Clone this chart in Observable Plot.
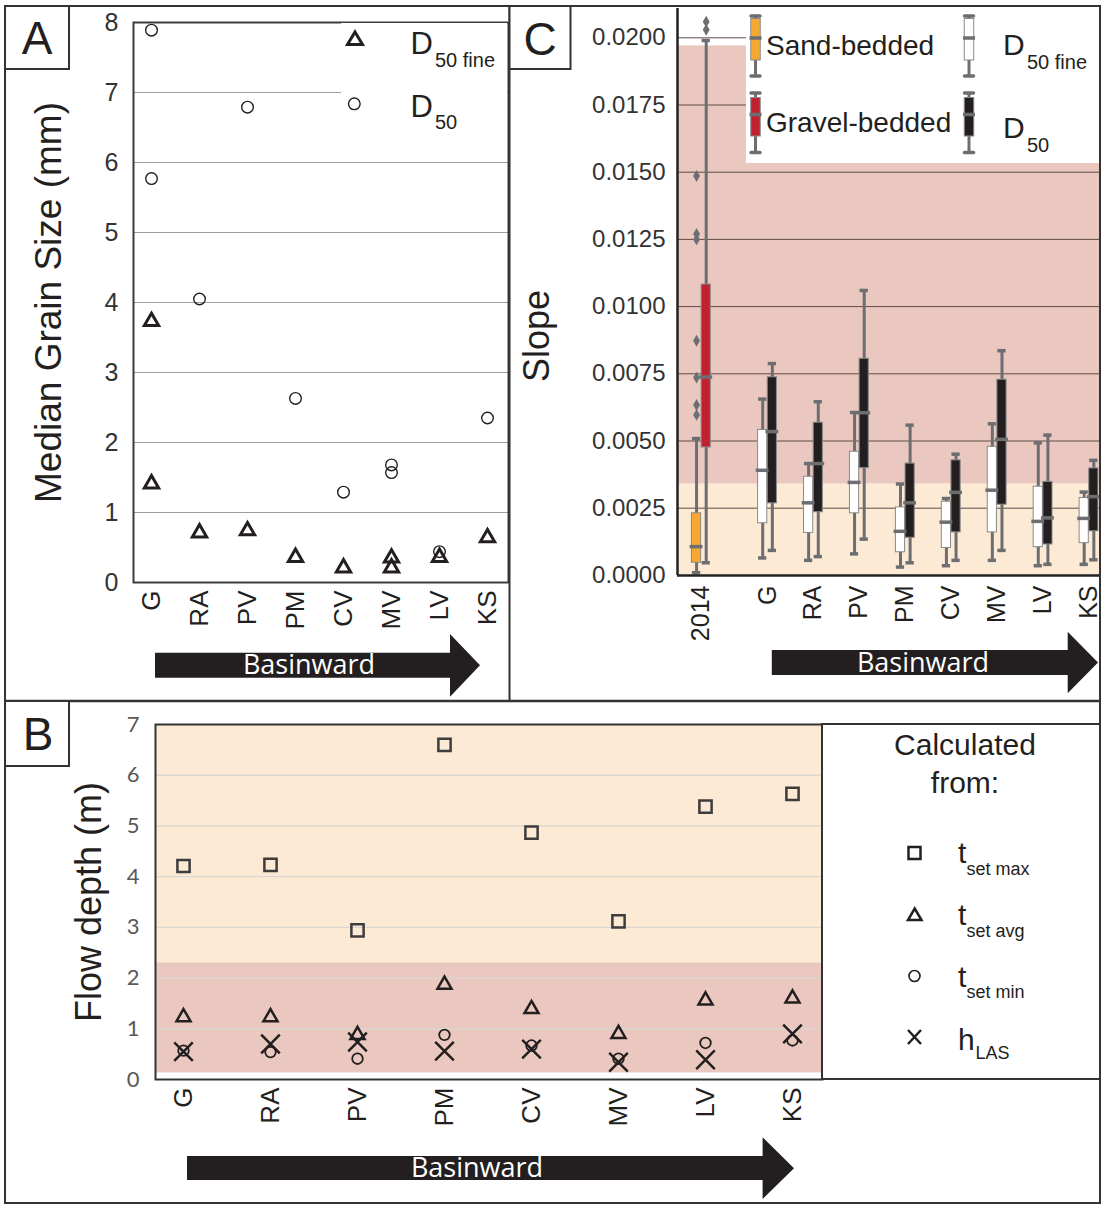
<!DOCTYPE html>
<html>
<head>
<meta charset="utf-8">
<script src="https://cdn.jsdelivr.net/npm/d3@7"></script>
<script src="https://cdn.jsdelivr.net/npm/@observablehq/plot@0.6"></script>
<style>
html,body{margin:0;padding:0;background:#fff;}
#fig{position:relative;width:1103px;height:1205px;overflow:hidden;background:#fff;}
#fig > svg{position:absolute;}
</style>
</head>
<body>
<div id="fig"></div>
<script>
// ================= DATA =================
const sites = ["G","RA","PV","PM","CV","MV","LV","KS"];

// Panel A – median grain size (mm)
const d50Sites      = ["G","G","RA","PV","PM","CV","MV","MV","LV","KS"];
const d50Values     = [7.89,5.77,4.05,6.79,2.63,1.29,1.68,1.57,0.44,2.35];
const d50FineSites  = ["G","G","RA","PV","PM","CV","MV","MV","LV","KS"];
const d50FineValues = [3.73,1.41,0.71,0.74,0.36,0.21,0.35,0.21,0.36,0.64];
const grainTicks = [0,1,2,3,4,5,6,7,8];
const grainGrid  = [1,2,3,4,5,6,7];

// Panel B – flow depth (m)
const tsetMax = [4.21,4.23,2.94,6.6,4.87,3.12,5.38,5.63];
const tsetAvg = [1.23,1.23,0.88,1.87,1.39,0.9,1.56,1.6];
const tsetMin = [0.57,0.54,0.41,0.88,0.67,0.41,0.72,0.77];
const hLAS    = [0.55,0.7,0.74,0.56,0.6,0.34,0.39,0.9];
const depthTicks = [0,1,2,3,4,5,6,7];
const depthGrid  = [1,2,3,4,5,6];
const depthZoneName = ["gravel-bedded","sand-bedded"];
const depthZoneLow  = [0.13, 2.3];
const depthZoneHigh = [2.3, 7];

// Panel C – slope box plots
const slopeGroups = ["2014", ...sites];
const boxKinds = ["Sand-bedded","Gravel-bedded","D50 fine","D50"];
const boxGroup = ["2014","2014","G","G","RA","RA","PV","PV","PM","PM","CV","CV","MV","MV","LV","LV","KS","KS"];
const boxKind  = ["Sand-bedded","Gravel-bedded","D50 fine","D50","D50 fine","D50","D50 fine","D50","D50 fine","D50","D50 fine","D50","D50 fine","D50","D50 fine","D50","D50 fine","D50"];
const boxLow   = [0.0001,0.00047, 0.00065,0.00093, 0.00056,0.0007, 0.0008,0.00135, 0.00031,0.00047, 0.00036,0.00056, 0.00056,0.00093, 0.00036,0.00041, 0.00041,0.00058];
const boxQ1    = [0.00047,0.00476, 0.00194,0.00268, 0.00158,0.00235, 0.00231,0.00399, 0.00086,0.0014, 0.00102,0.0016, 0.0016,0.00263, 0.00105,0.00115, 0.0012,0.00164];
const boxMed   = [0.00107,0.00738, 0.00391,0.00535, 0.0027,0.00416, 0.00346,0.00605, 0.00164,0.0027, 0.00198,0.00309, 0.00317,0.00506, 0.00201,0.00214, 0.00212,0.00293];
const boxQ3    = [0.00231,0.01082, 0.00541,0.00737, 0.00367,0.00568, 0.0046,0.00806, 0.00253,0.00416, 0.00274,0.00428, 0.00478,0.00728, 0.0033,0.00348, 0.00288,0.00398];
const boxHigh  = [0.00509,0.0199, 0.00656,0.00788, 0.00416,0.00646, 0.00606,0.0106, 0.0034,0.00559, 0.00286,0.00451, 0.00564,0.00836, 0.00493,0.00522, 0.0031,0.00428];
const outlierKind  = ["Sand-bedded","Sand-bedded","Sand-bedded","Sand-bedded","Sand-bedded","Sand-bedded","Sand-bedded","Gravel-bedded","Gravel-bedded"];
const outlierValue = [0.01486,0.0127,0.0125,0.00873,0.00736,0.00634,0.00597,0.0206,0.0203];
const slopeTicks = [0,0.0025,0.005,0.0075,0.01,0.0125,0.015,0.0175,0.02];
const slopeGrid  = [0.0025,0.005,0.0075,0.01,0.0125,0.015,0.0175,0.02];
const slopeZoneName = ["sand-bedded","gravel-bedded"];
const slopeZoneLow  = [0, 0.0034];
const slopeZoneHigh = [0.0034, 0.0197];

// ================= STYLE =================
const FONT = "'Liberation Sans', Arial, Helvetica, sans-serif";
const INK = "#231f20";
const GRAY = "#6d6e71";
const SAND_BG = "#fdead4";
const GRAVEL_BG = "#eac8bf";
const baseStyle = {fontFamily: FONT, background: "transparent", overflow: "visible", color: INK};
const fig = document.getElementById("fig");

function place(svg, left, top) {
  svg.style.left = left + "px";
  svg.style.top = top + "px";
  fig.appendChild(svg);
}

// ================= PANEL A =================
const rowsD50 = d50Sites.map((s, i) => ({site: s, value: d50Values[i]}));
const rowsFine = d50FineSites.map((s, i) => ({site: s, value: d50FineValues[i]}));
const plotA = Plot.plot({
  width: 508, height: 700,
  marginLeft: 133, marginRight: 0, marginTop: 22, marginBottom: 118,
  x: {type: "point", domain: sites, range: [150, 487], padding: 0},
  y: {domain: [0, 8]},
  style: baseStyle,
  marks: [
    Plot.ruleY(grainGrid, {stroke: "#9d9d9d", strokeWidth: 1.2}),
    Plot.dot(rowsD50, {x: "site", y: "value", r: 5.8, fill: "none", stroke: INK, strokeWidth: 1.4}),
    Plot.dot(rowsFine, {x: "site", y: "value", symbol: "triangle", r: 5.3, fill: "none", stroke: INK, strokeWidth: 3}),
    Plot.frame({stroke: "#3c3c3c", strokeWidth: 2}),
    Plot.axisY({ticks: grainTicks, tickFormat: d => String(d), tickSize: 0, tickPadding: 15, fontSize: 25, color: "#333", label: null}),
    Plot.axisX({tickRotate: -90, tickSize: 0, tickPadding: 8, fontSize: 26, color: INK, label: null}),
    Plot.text(["Median Grain Size (mm)"], {text: d => d, frameAnchor: "left", textAnchor: "middle", dx: -84, rotate: -90, fontSize: 37, fill: INK})
  ]
});
place(plotA, 0, 0);

// ================= PANEL C =================
const kindOffset = {"Sand-bedded": -0.105, "Gravel-bedded": 0.105, "D50 fine": -0.105, "D50": 0.105};
const groupPos = g => g === "2014" ? -1.44 : sites.indexOf(g);
const boxes = boxGroup.map((g, i) => ({group: g, kind: boxKind[i], lo: boxLow[i], q1: boxQ1[i], med: boxMed[i], q3: boxQ3[i], hi: boxHigh[i]}));
const outliers = outlierKind.map((k, i) => ({group: "2014", kind: k, value: outlierValue[i]}));
const xc = d => groupPos(d.group) + kindOffset[d.kind];
const slopeZones = slopeZoneName.map((n, i) => ({name: n, lo: slopeZoneLow[i], hi: slopeZoneHigh[i]}));
const cDomain = [-1.96, 7.25];
const cTicks = slopeGroups.map(groupPos);
const plotC = Plot.plot({
  width: 590, height: 700,
  marginLeft: 167, marginRight: 0, marginTop: 8, marginBottom: 125,
  x: {domain: cDomain},
  y: {domain: [0, 0.02], range: [574.9, 37.3]},
  color: {domain: boxKinds, range: ["#f7a833", "#c1202e", "#ffffff", INK]},
  style: baseStyle,
  marks: [
    Plot.rect(slopeZones.filter(d => d.name === "sand-bedded"), {y1: "lo", y2: "hi", fill: SAND_BG}),
    Plot.rect(slopeZones.filter(d => d.name === "gravel-bedded"), {y1: "lo", y2: "hi", fill: GRAVEL_BG}),
    Plot.ruleY(slopeGrid, {stroke: "#5e4c49", strokeWidth: 1}),
    Plot.ruleX(boxes, {x: xc, y1: "lo", y2: "hi", stroke: GRAY, strokeWidth: 3}),
    Plot.ruleY(boxes, {y: "hi", x1: d => xc(d) - 0.09, x2: d => xc(d) + 0.09, stroke: GRAY, strokeWidth: 3.5}),
    Plot.ruleY(boxes, {y: "lo", x1: d => xc(d) - 0.09, x2: d => xc(d) + 0.09, stroke: GRAY, strokeWidth: 3.5}),
    Plot.rect(boxes, {x1: d => xc(d) - 0.1, x2: d => xc(d) + 0.1, y1: "q1", y2: "q3", fill: "kind", stroke: "#8a8a8a", strokeWidth: 1}),
    Plot.ruleY(boxes, {y: "med", x1: d => xc(d) - 0.14, x2: d => xc(d) + 0.14, stroke: GRAY, strokeWidth: 3.5}),
    Plot.dot(outliers, {x: xc, y: "value", symbol: "diamond", r: 3.6, fill: GRAY}),
    Plot.ruleX([cDomain[0]], {stroke: "#222", strokeWidth: 2.5}),
    Plot.ruleY([0], {stroke: "#222", strokeWidth: 2.5}),
    Plot.axisY({ticks: slopeTicks, tickFormat: d3.format(".4f"), tickSize: 0, tickPadding: 12, fontSize: 24, color: "#333", label: null}),
    Plot.axisX({ticks: cTicks, tickFormat: v => slopeGroups[cTicks.indexOf(v)], tickRotate: -90, tickSize: 0, tickPadding: 10, fontSize: 25, color: INK, label: null}),
    Plot.text(["Slope"], {text: d => d, frameAnchor: "left", textAnchor: "middle", dx: -140, dy: 44, rotate: -90, fontSize: 36, fill: INK})
  ]
});
place(plotC, 510, 0);

// ================= PANEL B =================
const flowRows = sites.map((s, i) => ({site: s, max: tsetMax[i], avg: tsetAvg[i], min: tsetMin[i], las: hLAS[i]}));
const depthZones = depthZoneName.map((n, i) => ({name: n, lo: depthZoneLow[i], hi: depthZoneHigh[i]}));
const plotB = Plot.plot({
  width: 822, height: 505,
  marginLeft: 155, marginRight: 0, marginTop: 24, marginBottom: 126,
  x: {type: "point", domain: sites, range: [180.7, 794], padding: 0},
  y: {domain: [0, 7]},
  style: baseStyle,
  marks: [
    Plot.rect(depthZones.filter(d => d.name === "sand-bedded"), {y1: "lo", y2: "hi", fill: SAND_BG}),
    Plot.rect(depthZones.filter(d => d.name === "gravel-bedded"), {y1: "lo", y2: "hi", fill: GRAVEL_BG}),
    Plot.ruleY(depthGrid, {stroke: "#dbd6d1", strokeWidth: 1.4}),
    Plot.dot(flowRows, {x: "site", y: "max", symbol: "square", r: 6.9, fill: "none", stroke: "#3d3d3d", strokeWidth: 2.5}),
    Plot.dot(flowRows, {x: "site", y: "avg", symbol: "triangle", r: 5.2, fill: "none", stroke: INK, strokeWidth: 2.5}),
    Plot.dot(flowRows, {x: "site", y: "min", symbol: "circle", r: 5.3, fill: "none", stroke: INK, strokeWidth: 1.8}),
    Plot.dot(flowRows, {x: "site", y: "las", symbol: "times", r: 8.5, fill: "none", stroke: INK, strokeWidth: 2.5}),
    Plot.frame({stroke: "#333", strokeWidth: 2}),
    Plot.axisY({ticks: depthTicks, tickFormat: d => String(d), tickSize: 0, tickPadding: 16, fontSize: 22, fontFamily: "Lato, 'Open Sans', sans-serif", color: "#595959", label: null}),
    Plot.axisX({tickRotate: -90, tickSize: 0, tickPadding: 8, fontSize: 26, color: INK, label: null}),
    Plot.text(["Flow depth (m)"], {text: d => d, frameAnchor: "left", textAnchor: "middle", dx: -66, rotate: -90, fontSize: 36, fill: INK})
  ]
});
place(plotB, 0, 700);

// ================= OVERLAY: panels, legends, arrows =================
function boxIcon(cx, capT, boxT, med, boxB, capB, fill) {
  return `<line x1="${cx}" y1="${capT}" x2="${cx}" y2="${capB}" stroke="${GRAY}" stroke-width="3"/>
  <line x1="${cx-4.5}" y1="${capT}" x2="${cx+4.5}" y2="${capT}" stroke="${GRAY}" stroke-width="3.5" stroke-linecap="round"/>
  <line x1="${cx-4.5}" y1="${capB}" x2="${cx+4.5}" y2="${capB}" stroke="${GRAY}" stroke-width="3.5" stroke-linecap="round"/>
  <rect x="${cx-4.75}" y="${boxT}" width="9.5" height="${boxB-boxT}" fill="${fill}" stroke="#8a8a8a" stroke-width="1"/>
  <line x1="${cx-6}" y1="${med}" x2="${cx+6}" y2="${med}" stroke="${GRAY}" stroke-width="3.5"/>`;
}
function arrow(x0, xb, tip, yT, yB, hT, hB, tx, ty) {
  const ym = (hT + hB) / 2;
  return `<polygon points="${x0},${yT} ${xb},${yT} ${xb},${hT} ${tip},${ym} ${xb},${hB} ${xb},${yB} ${x0},${yB}" fill="${INK}"/>
  <text x="${tx}" y="${ty}" font-family="'Open Sans', sans-serif" font-size="27" fill="#fff" text-anchor="middle">Basinward</text>`;
}
const overlay = `
<svg xmlns="http://www.w3.org/2000/svg" width="1103" height="1205" style="left:0;top:0;pointer-events:none" font-family="${FONT}" fill="${INK}">
  <!-- legend A -->
  <rect x="341" y="23" width="166" height="118" fill="#fff"/>
  <polygon points="355,32 362.5,44.5 347.5,44.5" fill="none" stroke="${INK}" stroke-width="3"/>
  <circle cx="354.3" cy="103.8" r="5.8" fill="none" stroke="${INK}" stroke-width="1.4"/>
  <text x="410.5" y="54" font-size="31">D</text><text x="435" y="66.5" font-size="20">50 fine</text>
  <text x="410.5" y="116.5" font-size="31">D</text><text x="435" y="129" font-size="20">50</text>

  <!-- legend C -->
  <rect x="746" y="9" width="354" height="154" fill="#fff"/>
  ${boxIcon(755.5, 16, 18.5, 38, 60, 76, "#f7a833")}
  ${boxIcon(755.5, 93, 97.5, 114.5, 136, 152.5, "#c1202e")}
  ${boxIcon(969, 16, 18.5, 38, 60, 76, "#ffffff")}
  ${boxIcon(969, 93, 97.5, 114.5, 136, 152.5, INK)}
  <text x="766" y="55" font-size="28">Sand-bedded</text>
  <text x="766" y="132" font-size="28">Gravel-bedded</text>
  <text x="1003" y="55" font-size="30">D</text><text x="1027" y="68.5" font-size="20">50 fine</text>
  <text x="1003" y="138" font-size="30">D</text><text x="1027" y="151.5" font-size="20">50</text>

  <!-- legend B -->
  <rect x="822" y="724" width="278" height="355" fill="#fff" stroke="#333" stroke-width="2"/>
  <text x="965" y="755" font-size="30" text-anchor="middle">Calculated</text>
  <text x="965" y="793" font-size="30" text-anchor="middle">from:</text>
  <rect x="908.5" y="847" width="12" height="12" fill="none" stroke="${INK}" stroke-width="2.5"/>
  <polygon points="914.7,908.5 921.5,920 908,920" fill="none" stroke="${INK}" stroke-width="2.5"/>
  <circle cx="914.5" cy="976" r="5.5" fill="none" stroke="${INK}" stroke-width="1.6"/>
  <path d="M908,1030 L921,1044 M921,1030 L908,1044" stroke="${INK}" stroke-width="2.5"/>
  <text x="958" y="863" font-size="30">t</text><text x="966.5" y="875" font-size="18">set max</text>
  <text x="958" y="925" font-size="30">t</text><text x="966.5" y="937.3" font-size="18">set avg</text>
  <text x="958" y="986.7" font-size="30">t</text><text x="966.5" y="998.3" font-size="18">set min</text>
  <text x="958" y="1050" font-size="30">h</text><text x="975.5" y="1059.3" font-size="18">LAS</text>

  <!-- arrows -->
  ${arrow(155, 450, 480, 652.7, 677.7, 634, 696.7, 309, 674)}
  ${arrow(771.8, 1067.7, 1098, 650, 675, 631.7, 693.3, 923, 672)}
  ${arrow(187, 762.6, 794, 1156, 1180, 1137.3, 1199, 477, 1177)}

  <!-- panel borders -->
  <rect x="5" y="6" width="1095" height="1197" fill="none" stroke="#333" stroke-width="2"/>
  <line x1="509.5" y1="6" x2="509.5" y2="701" stroke="#333" stroke-width="2"/>
  <line x1="5" y1="701" x2="1100" y2="701" stroke="#333" stroke-width="2.5"/>

  <!-- panel letters -->
  <rect x="5" y="6" width="64" height="63" fill="#fff" stroke="#333" stroke-width="2"/>
  <text x="37" y="54" font-size="46" text-anchor="middle">A</text>
  <rect x="509.5" y="6" width="61" height="63" fill="#fff" stroke="#333" stroke-width="2"/>
  <text x="540" y="55" font-size="46" text-anchor="middle">C</text>
  <rect x="5" y="701" width="64" height="65" fill="#fff" stroke="#333" stroke-width="2"/>
  <text x="38" y="750" font-size="46" text-anchor="middle">B</text>
</svg>`;
fig.insertAdjacentHTML("beforeend", overlay);
</script>
</body>
</html>
